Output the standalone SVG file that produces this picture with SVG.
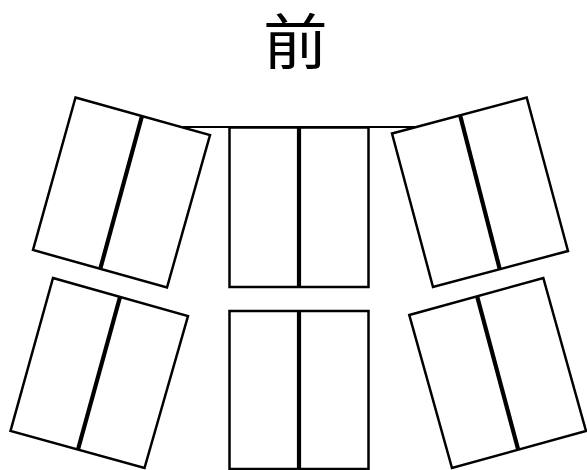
<svg xmlns="http://www.w3.org/2000/svg" width="587" height="470" viewBox="0 0 587 470">
<style>
.seat{fill:#fff;stroke:#000;stroke-width:2.5;stroke-linejoin:miter}
.div{fill:none;stroke:#000;stroke-width:4.2}
.bar{fill:none;stroke:#000;stroke-width:2}
text{font-family:"Noto Sans CJK JP","Noto Sans CJK SC",sans-serif;font-size:62px;fill:#000;text-anchor:middle}
</style>
<rect width="587" height="470" fill="#fff"/>
<text id="label" transform="translate(295.3,64.3) scale(1.045,.966)">前</text>
<g id="connectors"><path class="bar" d="M183 127H419"/></g>
<g id="seat-top-left"><polygon class="seat" points="75.5,97.5 210,135 167,287.5 33,250"/><path class="div" d="M142 116L100.5 268"/></g>
<g id="seat-top-center"><rect class="seat" x="229.5" y="127.5" width="139" height="159.5"/><path class="div" d="M299 127.5V287"/></g>
<g id="seat-top-right"><polygon class="seat" points="392,133.5 526.7,97.5 568,251 433,287"/><path class="div" d="M460.3 116L499.7 269"/></g>
<g id="seat-bottom-left"><polygon class="seat" points="53,278 188,316 144.5,468 10.5,431"/><path class="div" d="M120 297L78 449.5"/></g>
<g id="seat-bottom-center"><rect class="seat" x="229.5" y="311" width="139" height="158"/><path class="div" d="M299 311V469"/></g>
<g id="seat-bottom-right"><polygon class="seat" points="409.3,315 543.3,278 586,431 452,468"/><path class="div" d="M477.3 297L518 449"/></g>
</svg>
